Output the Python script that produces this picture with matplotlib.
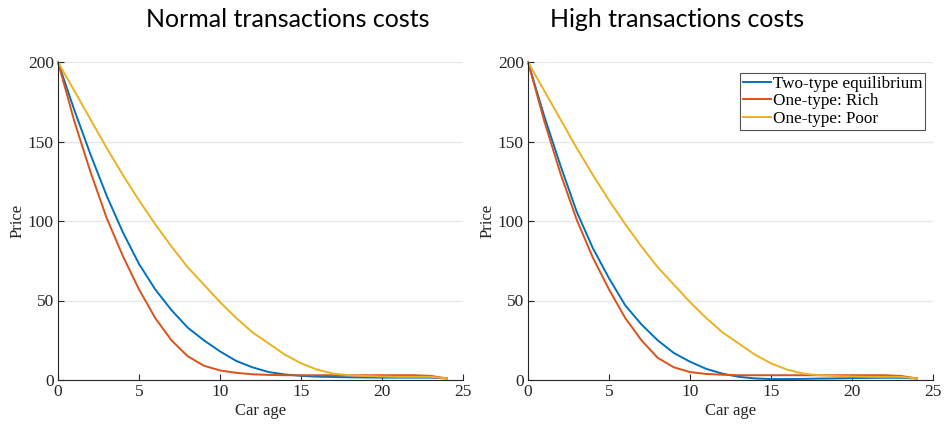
import matplotlib
matplotlib.use("Agg")
import matplotlib.pyplot as plt

# Car age (years) and simulated prices
car_age = list(range(25))

normal_two_type = [200, 170, 142, 116, 93, 73, 57, 44, 33, 25, 18, 12, 8, 5,
                   3.5, 2.6, 2.1, 1.9, 1.7, 1.6, 1.5, 1.5, 1.5, 1.5, 1.0]
normal_rich = [200, 163, 131, 102, 78, 57, 39, 25, 15, 9, 6, 4.5, 3.6, 3.2,
               3, 3, 3, 3, 3, 3, 3, 3, 3, 2.6, 1.0]
normal_poor = [200, 182, 164, 146, 129, 113, 98, 84, 71, 60, 49, 39, 30, 23,
               16, 10.5, 6.5, 4, 3, 2.5, 2.2, 2, 2, 2, 1.0]

high_two_type = [200, 166, 135, 106, 83, 64, 47, 35, 25, 17, 11.5, 7, 4, 2,
                 1, 0.6, 0.6, 0.7, 0.9, 1.0, 1.2, 1.3, 1.4, 1.4, 1.0]
high_rich = [200, 163, 130, 101, 77, 57, 39, 25, 14, 8, 5, 3.8, 3.3, 3,
             3, 3, 3, 3, 3, 3, 3, 3, 3, 2.6, 1.0]
high_poor = [200, 182, 164, 146, 129, 113, 98, 84, 71, 60, 49, 39, 30, 23,
             16, 10.5, 6.5, 4, 3, 2.5, 2.2, 2, 2, 2, 1.0]

series_labels = ["Two-type equilibrium", "One-type: Rich", "One-type: Poor"]
panel_titles = ["Normal transactions costs", "High transactions costs"]
x_ticks = [0, 5, 10, 15, 20, 25]
y_ticks = [0, 50, 100, 150, 200]

colors = ["#0072BD", "#D95319", "#EDB120"]
axis_color = "#262626"
serif = ["Liberation Serif", "DejaVu Serif"]

fig = plt.figure(figsize=(9.44, 4.25), dpi=100)
W, H = 944, 425

panels = [
    (58, [normal_two_type, normal_rich, normal_poor]),
    (528, [high_two_type, high_rich, high_poor]),
]

axes = []
for left_px, data in panels:
    ax = fig.add_axes([left_px / W, 1 - 380 / H, 405 / W, 318 / H])
    for ys, c, lab in zip(data, colors, series_labels):
        ax.plot(car_age, ys, color=c, lw=1.4, label=lab, clip_on=False)
    ax.set_xlim(0, 25)
    ax.set_ylim(0, 200)
    ax.set_xticks(x_ticks)
    ax.set_yticks(y_ticks)
    ax.yaxis.grid(True, color="#E8E8E8", lw=1.0)
    ax.set_axisbelow(True)
    for s in ["top", "right"]:
        ax.spines[s].set_visible(False)
    for s in ["left", "bottom"]:
        ax.spines[s].set_color(axis_color)
        ax.spines[s].set_linewidth(0.8)
    ax.tick_params(direction="in", length=4, width=0.8, color=axis_color,
                   labelcolor=axis_color, labelsize=12.5, pad=3)
    for lbl in ax.get_xticklabels() + ax.get_yticklabels():
        lbl.set_family(serif)
    ax.set_xlabel("Car age", family=serif, fontsize=12, color=axis_color, labelpad=2)
    ax.set_ylabel("Price", family=serif, fontsize=12, color=axis_color, labelpad=2)
    axes.append(ax)

leg = axes[1].legend(loc="upper right", bbox_to_anchor=(925 / W, 1 - 73 / H),
                     bbox_transform=fig.transFigure, prop={"family": serif, "size": 12.3},
                     frameon=True, fancybox=False, borderpad=0.15, handlelength=1.65,
                     handletextpad=0.12, labelspacing=0.1, borderaxespad=0)
leg.get_frame().set_edgecolor(axis_color)
leg.get_frame().set_linewidth(0.8)

title_font = ["Lato", "DejaVu Sans"]
fig.text(288 / W, 1 - 27 / H, panel_titles[0], ha="center", va="baseline",
         family=title_font, fontsize=18, color="black")
fig.text(677 / W, 1 - 27 / H, panel_titles[1], ha="center", va="baseline",
         family=title_font, fontsize=18, color="black")

fig.savefig("out.png", dpi=100)
